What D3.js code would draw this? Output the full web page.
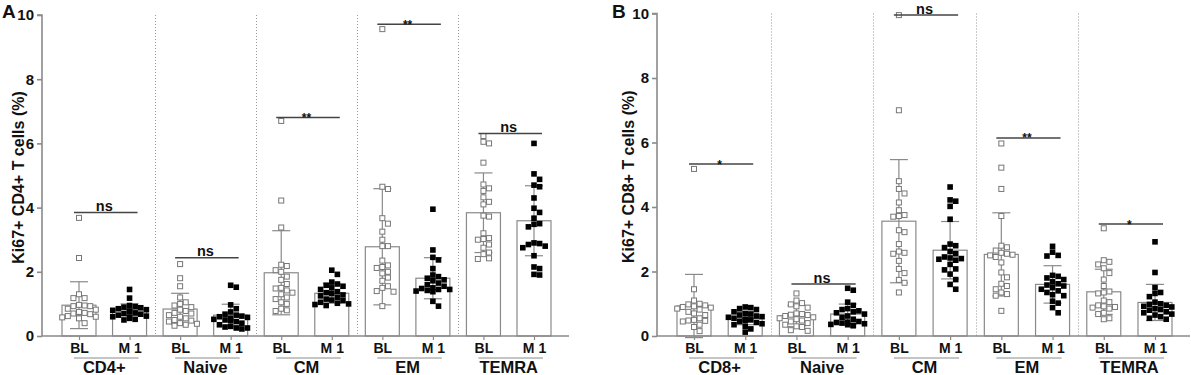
<!DOCTYPE html>
<html><head><meta charset="utf-8">
<script src="https://cdn.jsdelivr.net/npm/d3@7"></script>
<style>
html,body{margin:0;padding:0;background:#fff;}
svg text{font-family:Arial,"Liberation Sans",Helvetica,sans-serif;font-weight:bold;fill:#111;}
</style></head>
<body>
<svg id="chart" width="1191" height="375"></svg>
<script>
// ---------- DATA ----------
const conditions = ["BL", "M1"];
const yTicks = [0, 2, 4, 6, 8, 10];

// Panel A (CD4+)
const groupsA = ["CD4+", "Naive", "CM", "EM", "TEMRA"];
const meanA_BL = [0.96, 0.84, 1.97, 2.78, 3.84];
const sdA_BL   = [0.73, 0.49, 1.31, 1.81, 1.24];
const meanA_M1 = [0.82, 0.65, 1.33, 1.80, 3.59];
const sdA_M1   = [0.18, 0.34, 0.31, 0.64, 1.09];
const ptsA_BL = [
  [3.68, 2.43, 1.30, 1.18, 1.18, 0.97, 0.95, 0.93, 0.93, 0.85, 0.82, 0.75, 0.72, 0.70, 0.68, 0.62, 0.60, 0.58, 0.57, 0.55, 0.40],
  [2.24, 1.80, 1.55, 1.20, 1.05, 1.00, 0.95, 0.90, 0.82, 0.78, 0.72, 0.70, 0.65, 0.60, 0.55, 0.50, 0.48, 0.45, 0.40, 0.38, 0.35, 0.32],
  [6.70, 4.22, 3.38, 2.22, 2.18, 2.05, 2.00, 1.85, 1.75, 1.62, 1.50, 1.48, 1.42, 1.35, 1.30, 1.20, 1.15, 1.05, 1.00, 0.85, 0.80, 0.78],
  [9.56, 4.65, 4.58, 3.67, 3.50, 3.25, 3.00, 2.80, 2.80, 2.35, 2.20, 2.15, 2.12, 2.00, 1.95, 1.82, 1.72, 1.55, 1.50, 1.40, 1.38, 0.93],
  [6.23, 6.05, 6.00, 5.40, 4.72, 4.60, 4.52, 4.32, 4.18, 4.10, 3.75, 3.72, 3.20, 3.05, 3.02, 3.00, 2.85, 2.75, 2.60, 2.55, 2.42, 2.40]
];
const ptsA_M1 = [
  [1.45, 1.18, 0.95, 0.92, 0.90, 0.88, 0.85, 0.82, 0.80, 0.78, 0.75, 0.72, 0.70, 0.68, 0.65, 0.62, 0.60, 0.58, 0.55, 0.52, 0.50],
  [1.58, 1.52, 0.97, 0.85, 0.75, 0.68, 0.65, 0.62, 0.60, 0.58, 0.55, 0.52, 0.50, 0.48, 0.45, 0.40, 0.35, 0.30, 0.28, 0.25, 0.25, 0.22],
  [2.05, 1.92, 1.68, 1.62, 1.58, 1.55, 1.50, 1.45, 1.38, 1.35, 1.32, 1.28, 1.25, 1.20, 1.15, 1.12, 1.10, 1.05, 1.02, 1.00, 0.98, 0.95],
  [3.95, 2.68, 2.45, 2.37, 2.10, 1.90, 1.85, 1.80, 1.75, 1.72, 1.65, 1.60, 1.55, 1.50, 1.48, 1.45, 1.45, 1.42, 1.40, 1.38, 1.08, 0.93],
  [6.00, 5.05, 4.88, 4.70, 4.65, 4.30, 3.98, 3.85, 3.67, 3.50, 3.48, 3.40, 2.90, 2.88, 2.85, 2.80, 2.75, 2.50, 2.15, 2.10, 1.92, 1.90]
];
const sigA  = ["ns", "ns", "**", "**", "ns"];
const sigYA = [3.85, 2.44, 6.81, 9.71, 6.31];

// Panel B (CD8+)
const groupsB = ["CD8+", "Naive", "CM", "EM", "TEMRA"];
const meanB_BL = [0.93, 0.62, 3.56, 2.53, 1.37];
const sdB_BL   = [0.98, 0.33, 1.91, 1.29, 0.70];
const meanB_M1 = [0.55, 0.68, 2.66, 1.60, 1.04];
const sdB_M1   = [0.20, 0.31, 0.89, 0.58, 0.56];
const ptsB_BL = [
  [5.18, 1.45, 1.10, 1.00, 0.98, 0.95, 0.92, 0.90, 0.88, 0.85, 0.82, 0.75, 0.70, 0.65, 0.55, 0.50, 0.48, 0.47, 0.45, 0.35, 0.28, 0.15],
  [1.32, 1.10, 1.02, 0.98, 0.92, 0.88, 0.70, 0.68, 0.66, 0.65, 0.62, 0.58, 0.55, 0.52, 0.48, 0.45, 0.40, 0.35, 0.30, 0.28, 0.18, 0.16],
  [9.95, 7.00, 4.80, 4.56, 4.42, 4.14, 3.90, 3.75, 3.72, 3.70, 3.28, 3.22, 2.85, 2.62, 2.58, 2.55, 2.33, 2.08, 1.95, 1.74, 1.65, 1.35],
  [5.97, 5.22, 4.56, 3.72, 2.80, 2.75, 2.65, 2.58, 2.55, 2.52, 2.50, 2.45, 2.28, 1.97, 1.82, 1.62, 1.55, 1.45, 1.35, 1.30, 1.25, 0.78],
  [3.34, 2.35, 2.30, 2.22, 2.10, 1.95, 1.75, 1.55, 1.38, 1.35, 1.32, 1.10, 1.05, 0.95, 0.92, 0.90, 0.88, 0.85, 0.72, 0.68, 0.55, 0.52]
];
const ptsB_M1 = [
  [0.90, 0.88, 0.85, 0.82, 0.75, 0.70, 0.68, 0.65, 0.62, 0.60, 0.58, 0.55, 0.52, 0.50, 0.48, 0.45, 0.42, 0.38, 0.35, 0.30, 0.22, 0.12],
  [1.48, 1.42, 1.05, 0.95, 0.85, 0.82, 0.78, 0.75, 0.72, 0.68, 0.62, 0.58, 0.52, 0.45, 0.43, 0.42, 0.40, 0.38, 0.36, 0.35, 0.33, 0.32],
  [4.62, 4.22, 4.18, 4.02, 3.62, 2.85, 2.80, 2.74, 2.62, 2.55, 2.45, 2.42, 2.40, 2.38, 2.35, 2.22, 2.08, 2.05, 1.92, 1.75, 1.60, 1.45],
  [2.78, 2.60, 2.50, 2.48, 1.88, 1.85, 1.80, 1.75, 1.68, 1.62, 1.58, 1.55, 1.50, 1.45, 1.40, 1.35, 1.28, 1.25, 1.08, 1.02, 0.88, 0.72],
  [2.92, 1.97, 1.50, 1.35, 1.32, 1.22, 1.05, 1.00, 0.98, 0.95, 0.92, 0.90, 0.85, 0.82, 0.80, 0.75, 0.72, 0.68, 0.65, 0.60, 0.55, 0.52]
];
const sigB  = ["*", "ns", "ns", "**", "*"];
const sigYB = [5.33, 1.61, 9.95, 6.14, 3.47];

// ---------- DRAW ----------
const svg = d3.select("#chart");
const GRAY = "#8a8a8a";
const FONT = "Arial, 'Liberation Sans', sans-serif";

// simple dodge layout (GraphPad-like scatter), offsets limited to the bar width
function beeswarm(vals, yScale, cx, dx, dy, maxOff) {
  const items = vals.map(v => ({v, y: yScale(v)})).sort((a, b) => a.y - b.y);
  const placed = [];
  const offs = [0];
  for (let k = 1; k * dx <= maxOff + 0.01; k++) { offs.push(k * dx); offs.push(-k * dx); }
  items.forEach(it => {
    let best = null, bestC = Infinity;
    for (const off of offs) {
      const c = placed.filter(p => Math.abs(p.x - (cx + off)) < dx - 0.01 && Math.abs(p.y - it.y) < dy).length;
      if (c === 0) { best = off; break; }
      if (c < bestC) { bestC = c; best = off; }
    }
    it.x = cx + best;
    placed.push(it);
  });
  return placed;
}

function panel(cfg) {
  const g = svg.append("g");
  const y = d3.scaleLinear().domain([0, 10]).range([cfg.y0, cfg.y10]);
  const ids = [];
  cfg.groups.forEach((gr, i) => conditions.forEach(c => ids.push(i + "_" + c)));
  const x = d3.scalePoint().domain(ids).range([cfg.x0 + 37, cfg.x1 - 35]);
  const bw = 34;

  // dotted separators
  for (let i = 1; i < cfg.groups.length; i++) {
    const sx = Math.round((x((i - 1) + "_M1") + x(i + "_BL")) / 2) + 0.5;
    g.append("line").attr("x1", sx).attr("x2", sx).attr("y1", y(10)).attr("y2", y(0))
      .attr("stroke", "#999").attr("stroke-width", 1).attr("stroke-dasharray", "1,2");
  }

  // bars
  cfg.groups.forEach((gr, i) => {
    conditions.forEach(c => {
      const m = c === "BL" ? cfg.meanBL[i] : cfg.meanM1[i];
      const cx = x(i + "_" + c);
      g.append("rect").attr("x", cx - bw / 2).attr("y", y(m)).attr("width", bw).attr("height", y(0) - y(m))
        .attr("fill", "#fff").attr("stroke", GRAY).attr("stroke-width", 1.2);
    });
  });

  // error bars
  cfg.groups.forEach((gr, i) => {
    conditions.forEach(c => {
      const m = c === "BL" ? cfg.meanBL[i] : cfg.meanM1[i];
      const sd = c === "BL" ? cfg.sdBL[i] : cfg.sdM1[i];
      const cx = x(i + "_" + c);
      const eb = g.append("g").attr("stroke", GRAY).attr("stroke-width", 1.2);
      eb.append("line").attr("x1", cx).attr("x2", cx).attr("y1", y(m + sd)).attr("y2", y(Math.max(0, m - sd)));
      eb.append("line").attr("x1", cx - 9).attr("x2", cx + 9).attr("y1", y(m + sd)).attr("y2", y(m + sd));
      eb.append("line").attr("x1", cx - 9).attr("x2", cx + 9).attr("y1", y(m - sd)).attr("y2", y(m - sd));
    });
  });

  // points
  cfg.groups.forEach((gr, i) => {
    const bl = beeswarm(cfg.ptsBL[i], y, x(i + "_BL"), 5.6, 5.6, 17);
    g.append("g").selectAll("rect").data(bl).join("rect")
      .attr("x", d => d.x - 2.5).attr("y", d => d.y - 2.5).attr("width", 5).attr("height", 5)
      .attr("fill", "#fff").attr("stroke", "#777").attr("stroke-width", 1);
    const m1 = beeswarm(cfg.ptsM1[i], y, x(i + "_M1"), 5.6, 5.6, 17);
    g.append("g").selectAll("rect").data(m1).join("rect")
      .attr("x", d => d.x - 2.8).attr("y", d => d.y - 2.8).attr("width", 5.6).attr("height", 5.6)
      .attr("fill", "#000");
  });

  // y axis
  const yAxis = d3.axisLeft(y).tickValues(yTicks).tickSize(5).tickPadding(3).tickFormat(d3.format("d"));
  const ya = g.append("g").attr("transform", `translate(${cfg.x0},0)`).call(yAxis);
  ya.select(".domain").attr("stroke", GRAY).attr("stroke-width", 1.6).attr("d", `M-5,${y(10)}H0V${y(0)}`);
  ya.selectAll(".tick line").attr("stroke", GRAY).attr("stroke-width", 1.6);
  ya.selectAll(".tick text").attr("font-size", 15).attr("font-weight", "bold")
    .attr("font-family", FONT).attr("fill", "#111");

  // x axis
  const xAxis = d3.axisBottom(x).tickSize(4).tickFormat(d => d.split("_")[1]).tickPadding(3);
  const xa = g.append("g").attr("transform", `translate(0,${y(0)})`).call(xAxis);
  xa.select(".domain").attr("stroke", GRAY).attr("stroke-width", 1.6).attr("d", `M${cfg.x0},0H${cfg.x1}`);
  xa.selectAll(".tick line").attr("stroke", GRAY).attr("stroke-width", 1.2);
  xa.selectAll(".tick text").attr("font-size", 14).attr("font-weight", "bold")
    .attr("font-family", FONT).attr("fill", "#111")
    .text(d => d.endsWith("M1") ? "M 1" : "BL");

  // group underline + labels
  cfg.groups.forEach((gr, i) => {
    const a = x(i + "_BL"), b = x(i + "_M1");
    g.append("line").attr("x1", a - 5).attr("x2", b + 9).attr("y1", 358).attr("y2", 358)
      .attr("stroke", GRAY).attr("stroke-width", 1);
    g.append("text").attr("x", (a + b) / 2).attr("y", 373).attr("text-anchor", "middle")
      .attr("font-size", 16.5).text(gr);
  });

  // significance
  cfg.groups.forEach((gr, i) => {
    const a = x(i + "_BL"), b = x(i + "_M1");
    const ly = y(cfg.sigY[i]);
    g.append("line").attr("x1", a - 5).attr("x2", b + 8).attr("y1", ly).attr("y2", ly)
      .attr("stroke", "#444").attr("stroke-width", 1.5);
    const s = cfg.sig[i];
    g.append("text").attr("x", (a + b) / 2).attr("y", s === "ns" ? ly - 1.2 : ly + 4.5)
      .attr("text-anchor", "middle").attr("font-size", s === "ns" ? 14.5 : 12).text(s);
  });

  // y title
  g.append("text").attr("transform", `translate(${cfg.titleX},${(y(0) + y(10)) / 2 + 2}) rotate(-90)`)
    .attr("text-anchor", "middle").attr("font-size", 16).text(cfg.title);

  // panel letter
  g.append("text").attr("x", cfg.letterX).attr("y", 18).attr("font-size", 19).text(cfg.letter);
}

panel({
  letter: "A", letterX: 2, title: "Ki67+ CD4+ T cells (%)", titleX: 24,
  x0: 42, x1: 569, y0: 336, y10: 15,
  groups: groupsA, meanBL: meanA_BL, sdBL: sdA_BL, meanM1: meanA_M1, sdM1: sdA_M1,
  ptsBL: ptsA_BL, ptsM1: ptsA_M1, sig: sigA, sigY: sigYA
});
panel({
  letter: "B", letterX: 612, title: "Ki67+ CD8+ T cells (%)", titleX: 634,
  x0: 657, x1: 1190, y0: 336, y10: 13.5,
  groups: groupsB, meanBL: meanB_BL, sdBL: sdB_BL, meanM1: meanB_M1, sdM1: sdB_M1,
  ptsBL: ptsB_BL, ptsM1: ptsB_M1, sig: sigB, sigY: sigYB
});
</script>
</body></html>
